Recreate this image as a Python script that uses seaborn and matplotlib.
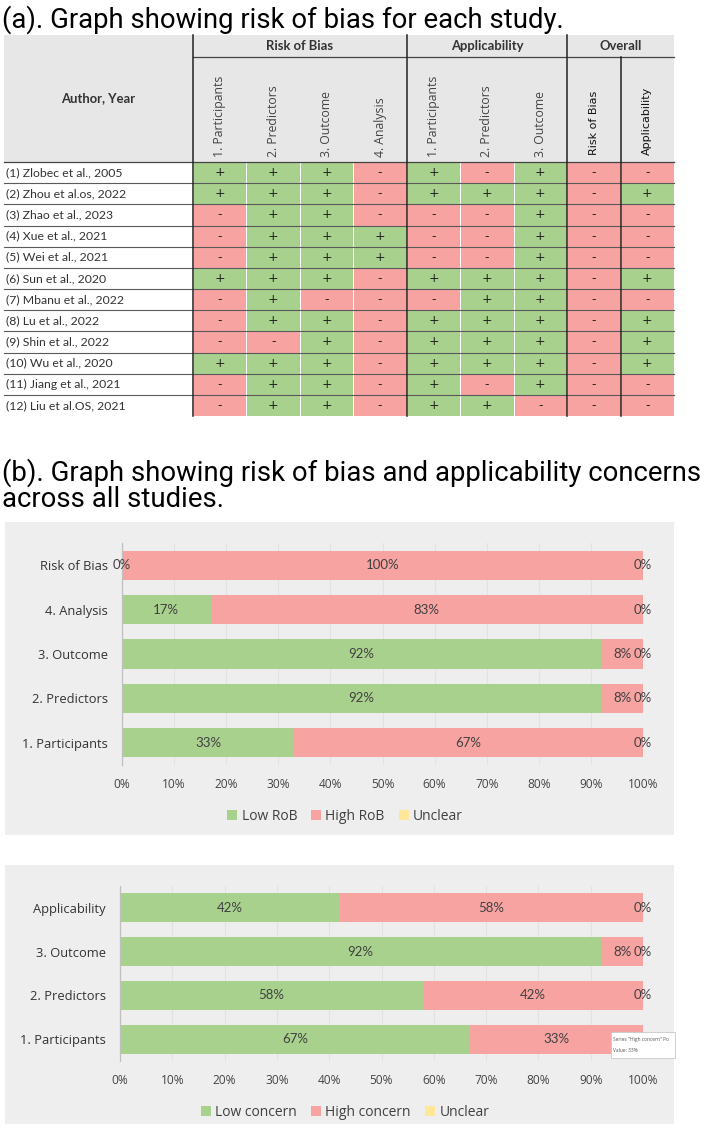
import numpy as np
import pandas as pd
import seaborn as sns
import matplotlib
matplotlib.use("Agg")
import matplotlib.pyplot as plt
from matplotlib.colors import ListedColormap
from matplotlib.patches import Rectangle
from matplotlib import font_manager

# ---------------- data ----------------
studies = ["(1) Zlobec et al., 2005", "(2) Zhou et al.os, 2022", "(3) Zhao et al., 2023",
           "(4) Xue et al., 2021", "(5) Wei et al., 2021", "(6) Sun et al., 2020",
           "(7) Mbanu et al., 2022", "(8) Lu et al., 2022", "(9) Shin et al., 2022",
           "(10) Wu et al., 2020", "(11) Jiang et al., 2021", "(12) Liu et al.OS, 2021"]
groups = ["Risk of Bias", "Applicability", "Overall"]
columns = ["1. Participants", "2. Predictors", "3. Outcome", "4. Analysis",
           "1. Participants", "2. Predictors", "3. Outcome",
           "Risk of Bias", "Applicability"]
rob_participants = ["+", "+", "-", "-", "-", "+", "-", "-", "-", "+", "-", "-"]
rob_predictors   = ["+", "+", "+", "+", "+", "+", "+", "+", "-", "+", "+", "+"]
rob_outcome      = ["+", "+", "+", "+", "+", "+", "-", "+", "+", "+", "+", "+"]
rob_analysis     = ["-", "-", "-", "+", "+", "-", "-", "-", "-", "-", "-", "-"]
app_participants = ["+", "+", "-", "-", "-", "+", "-", "+", "+", "+", "+", "+"]
app_predictors   = ["-", "+", "-", "-", "-", "+", "+", "+", "+", "+", "-", "+"]
app_outcome      = ["+", "+", "+", "+", "+", "+", "+", "+", "+", "+", "+", "-"]
overall_rob      = ["-", "-", "-", "-", "-", "-", "-", "-", "-", "-", "-", "-"]
overall_app      = ["-", "+", "-", "-", "-", "+", "-", "+", "+", "+", "-", "-"]

rob_cats = ["Risk of Bias", "4. Analysis", "3. Outcome", "2. Predictors", "1. Participants"]
rob_low = [0, 17, 92, 92, 33]
rob_high = [100, 83, 8, 8, 67]
rob_unclear = [0, 0, 0, 0, 0]

app_cats = ["Applicability", "3. Outcome", "2. Predictors", "1. Participants"]
app_low = [42, 92, 58, 67]
app_high = [58, 8, 42, 33]
app_unclear = [0, 0, 0, 0]

xticks = list(range(0, 101, 10))

tooltip_lines = ['Series "High concern" Po', "Value: 33%"]

# ---------------- style ----------------
GREEN = "#a9d18e"
PINK = "#f6a3a1"
YELLOW = "#ffe699"
PANEL = "#eeeeee"
HEAD = "#e7e7e7"
TXT = "#404040"

names = {f.name for f in font_manager.fontManager.ttflist}
NARROW = "Liberation Sans Narrow" if "Liberation Sans Narrow" in names else "Lato"
SANS = "Open Sans"
TITLE = "Roboto"

W, H = 709, 1128
fig = plt.figure(figsize=(W / 100, H / 100), dpi=100)
fig.patch.set_facecolor("white")


def ax_at(x0, y0, x1, y1, z=1):
    return fig.add_axes([x0 / W, 1 - y1 / H, (x1 - x0) / W, (y1 - y0) / H], zorder=z)


canvas = ax_at(0, 0, W, H, z=0)
canvas.set_xlim(0, W)
canvas.set_ylim(H, 0)
canvas.axis("off")

top = ax_at(0, 0, W, H, z=10)
top.set_xlim(0, W)
top.set_ylim(H, 0)
top.axis("off")
top.patch.set_alpha(0)

# ---------------- (a) table ----------------
canvas.text(2, 28, "(a). Graph showing risk of bias for each study.", fontsize=19.8,
            family=TITLE, va="baseline", ha="left", color="black")

TX0, TX1 = 4, 674
CX0 = 193
HY0, HY1, HY2 = 35, 57, 162
TY1 = 416
edges = np.linspace(CX0, TX1, len(columns) + 1)
centers = (edges[:-1] + edges[1:]) / 2
row_h = (TY1 - HY2) / len(studies)

canvas.add_patch(Rectangle((TX0, HY0), TX1 - TX0, HY2 - HY0, fc=HEAD, ec="none"))
canvas.text((TX0 + CX0) / 2, (HY0 + HY2) / 2, "Author, Year", ha="center", va="center",
            fontsize=9.4, family=NARROW, weight="bold", color="#333333")
group_spans = [(0, 4), (4, 7), (7, 9)]
for g, (a, b) in zip(groups, group_spans):
    canvas.text((edges[a] + edges[b]) / 2, (HY0 + HY1) / 2, g, ha="center", va="center",
                fontsize=9.4, family=NARROW, weight="bold", color="#333333")
for i, c in enumerate(columns):
    if i < 7:
        canvas.text(centers[i], HY2 - 5, c, rotation=90, ha="center", va="bottom",
                    fontsize=8.8, family=SANS, color="#444444")
    else:
        canvas.text(centers[i], HY2 - 7, c, rotation=90, ha="center", va="bottom",
                    fontsize=8.0, family="DejaVu Sans", color="#111111")

for r, s in enumerate(studies):
    canvas.text(TX0 + 2, HY2 + (r + 0.5) * row_h, s, ha="left", va="center",
                fontsize=8.8, family=NARROW, color="#333333")

table = pd.DataFrame({f"c{i}": col for i, col in enumerate(
    [rob_participants, rob_predictors, rob_outcome, rob_analysis,
     app_participants, app_predictors, app_outcome, overall_rob, overall_app])},
    index=studies)
values = (table == "+").astype(int)
hax = ax_at(CX0, HY2, TX1, TY1, z=2)
sns.heatmap(values, cmap=ListedColormap([PINK, GREEN]), vmin=0, vmax=1, cbar=False,
            annot=table.values, fmt="", linewidths=0.5, linecolor="white",
            annot_kws={"fontsize": 9, "color": "#222222", "family": "DejaVu Sans"}, ax=hax)
hax.set_xticks([])
hax.set_yticks([])
hax.set_xlabel("")
hax.set_ylabel("")

# grid lines of table
for r in range(1, len(studies)):
    y = HY2 + r * row_h
    top.plot([TX0, TX1], [y, y], color="#5a5a5a", lw=0.8)
top.plot([TX0, TX1], [HY2, HY2], color="#444444", lw=0.9)
top.plot([CX0, TX1], [HY1, HY1], color="#444444", lw=0.9)
for x in [edges[0], edges[4], edges[7]]:
    top.plot([x, x], [HY0, TY1], color="#222222", lw=1.1)
top.plot([edges[8], edges[8]], [HY1, TY1], color="#222222", lw=1.1)

# ---------------- (b) title ----------------
canvas.text(2, 481, "(b). Graph showing risk of bias and applicability concerns", fontsize=19.8,
            family=TITLE, va="baseline", ha="left", color="black")
canvas.text(2, 507, "across all studies.", fontsize=19.8,
            family=TITLE, va="baseline", ha="left", color="black")


def stacked(cats, low, high, unclear, box, axbox, legend_y, labels, hidden=()):
    bx0, by0, bx1, by1 = box
    canvas.add_patch(Rectangle((bx0, by0), bx1 - bx0, by1 - by0, fc=PANEL, ec="none"))
    ax = ax_at(*axbox, z=3)
    ax.patch.set_alpha(0)
    df = pd.DataFrame({"cat": cats, "low": low, "high": high, "unclear": unclear})
    df["cum_high"] = df["low"] + df["high"]
    df["cum_unc"] = df["cum_high"] + df["unclear"]
    ax.set_axisbelow(True)
    ax.grid(axis="x", color="#e2e2e2", lw=0.8)
    sns.barplot(data=df, x="cum_unc", y="cat", color=YELLOW, saturation=1, width=0.66,
                orient="h", ax=ax, order=cats)
    sns.barplot(data=df, x="cum_high", y="cat", color=PINK, saturation=1, width=0.66,
                orient="h", ax=ax, order=cats)
    sns.barplot(data=df, x="low", y="cat", color=GREEN, saturation=1, width=0.66,
                orient="h", ax=ax, order=cats)
    for i, row in df.iterrows():
        ax.text(row["low"] / 2, i, f"{row['low']}%", ha="center", va="center",
                fontsize=9.5, family=NARROW, color=TXT)
        ax.text(row["low"] + row["high"] / 2, i, f"{row['high']}%", ha="center", va="center",
                fontsize=9.5, family=NARROW, color=TXT)
        if i not in hidden:
            ax.text(row["cum_high"] + row["unclear"] / 2, i, f"{row['unclear']}%", ha="center",
                    va="center", fontsize=9.5, family=NARROW, color=TXT)
    ax.set_xlim(0, 100)
    ax.set_ylim(len(cats) - 0.5, -0.5)
    ax.set_xticks(xticks)
    ax.set_xticklabels([f"{t}%" for t in xticks], fontsize=8.6, family=SANS, color="#444444")
    ax.set_yticklabels(cats, fontsize=9.3, family=SANS, color="#333333")
    ax.tick_params(axis="both", length=0)
    ax.tick_params(axis="x", pad=9)
    ax.tick_params(axis="y", pad=10)
    ax.set_xlabel("")
    ax.set_ylabel("")
    for s in ["top", "right", "bottom"]:
        ax.spines[s].set_visible(False)
    ax.spines["left"].set_color("#bfbfbf")
    ax.spines["left"].set_linewidth(0.9)
    handles = [Rectangle((0, 0), 1, 1, fc=c, ec="none") for c in [GREEN, PINK, YELLOW]]
    leg = ax.legend(handles, labels, loc="center", ncol=3, frameon=False,
                    bbox_to_anchor=(345 / W, 1 - legend_y / H), bbox_transform=fig.transFigure,
                    handlelength=0.75, handleheight=0.75, handletextpad=0.3, columnspacing=1.0,
                    prop={"family": SANS, "size": 10})
    for t in leg.get_texts():
        t.set_color("#404040")
    return ax


stacked(rob_cats, rob_low, rob_high, rob_unclear, (5, 522, 674, 835), (122, 543, 643, 765),
        816, ["Low RoB", "High RoB", "Unclear"])
stacked(app_cats, app_low, app_high, app_unclear, (5, 865, 674, 1124), (120, 886, 643, 1061),
        1112, ["Low concern", "High concern", "Unclear"], hidden=(3,))

# tooltip box (covers the last 0% label, as in the reference)
tip = Rectangle((611, 1032), 64, 26, fc="white", ec="#c8c8c8", lw=0.6)
top.add_patch(tip)
top.text(613, 1040, tooltip_lines[0], fontsize=3.5, family=SANS, color="#555555",
         va="center", ha="left")
top.text(613, 1050, tooltip_lines[1], fontsize=3.5, family=SANS, color="#555555",
         va="center", ha="left")

fig.savefig("out.png", dpi=100, facecolor="white")
